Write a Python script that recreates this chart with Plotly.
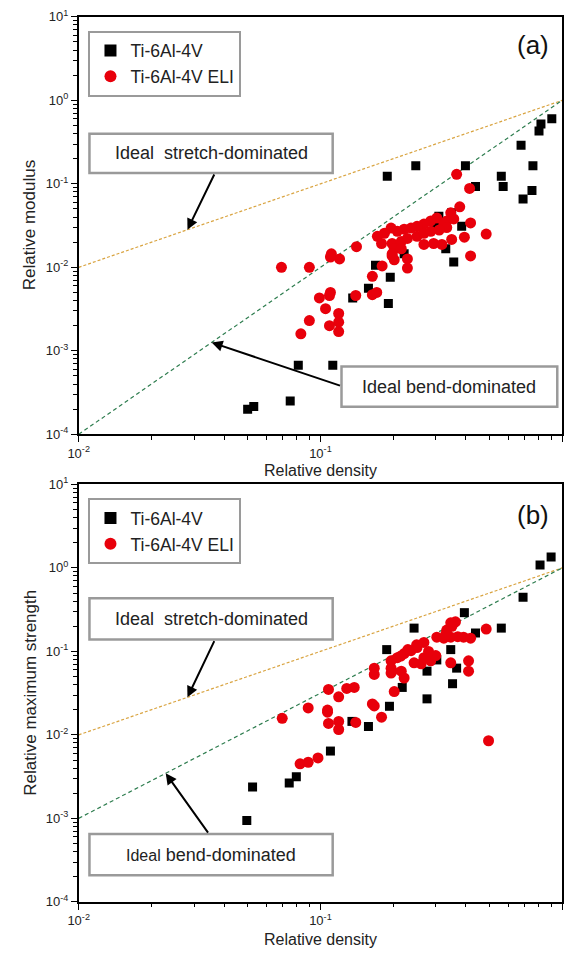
import plotly.graph_objects as go

W, H = 571, 957

# ---------------- data (a) relative modulus ----------------
a_ti_x = [0.906, 0.817, 0.802, 0.676, 0.757, 0.560, 0.570, 0.750, 0.689, 0.248,
          0.398, 0.189, 0.438, 0.309, 0.349, 0.384, 0.300, 0.330, 0.222, 0.356,
          0.1945, 0.169, 0.158, 0.136, 0.191, 0.081, 0.1125, 0.075, 0.050, 0.053]
a_ti_y = [0.60, 0.52, 0.43, 0.29, 0.165, 0.123, 0.093, 0.083, 0.066, 0.165,
          0.165, 0.123, 0.093, 0.041, 0.045, 0.031, 0.030, 0.0167, 0.0145, 0.0116,
          0.0076, 0.0106, 0.0056, 0.0043, 0.0037, 0.00067, 0.00067, 0.00025, 0.00020, 0.000215]

a_eli_x = [0.366, 0.414, 0.377, 0.418, 0.485, 0.394, 0.418, 0.346, 0.356, 0.333,
           0.303, 0.286, 0.268, 0.251, 0.237, 0.222, 0.208, 0.196, 0.184, 0.172,
           0.179, 0.198, 0.216, 0.229, 0.251, 0.268, 0.286, 0.294, 0.318, 0.268,
           0.349, 0.324, 0.202, 0.216, 0.141, 0.111, 0.120, 0.229, 0.198, 0.069,
           0.090, 0.110, 0.180, 0.164, 0.164, 0.171, 0.140, 0.110, 0.109, 0.099,
           0.105, 0.119, 0.090, 0.119, 0.109, 0.119, 0.083, 0.229, 0.202, 0.198,
           0.333, 0.310]
a_eli_y = [0.130, 0.088, 0.053, 0.034, 0.025, 0.023, 0.0137, 0.045, 0.038, 0.036,
           0.039, 0.036, 0.033, 0.031, 0.0295, 0.0286, 0.027, 0.0295, 0.0256, 0.0235,
           0.0193, 0.0193, 0.0204, 0.0222, 0.0235, 0.0256, 0.027, 0.0193, 0.0188, 0.0188,
           0.0216, 0.033, 0.0167, 0.0167, 0.0177, 0.0145, 0.0126, 0.0126, 0.0145, 0.0100,
           0.0100, 0.0133, 0.0104, 0.0078, 0.0047, 0.0050, 0.0046, 0.0050, 0.0046, 0.0043,
           0.0032, 0.0028, 0.0023, 0.0022, 0.0020, 0.0017, 0.0016, 0.0098, 0.0123, 0.0137,
           0.030, 0.028]

# ---------------- data (b) relative maximum strength ----------------
b_ti_x = [0.90, 0.81, 0.689, 0.394, 0.560, 0.438, 0.244, 0.188, 0.346, 0.303,
          0.366, 0.276, 0.352, 0.218, 0.276, 0.193, 0.135, 0.158, 0.110, 0.0795,
          0.0743, 0.0524, 0.0496]
b_ti_y = [1.35, 1.08, 0.445, 0.291, 0.190, 0.166, 0.190, 0.105, 0.105, 0.079,
          0.063, 0.058, 0.041, 0.037, 0.027, 0.022, 0.0145, 0.0126, 0.0064, 0.00316,
          0.00266, 0.00238, 0.00094]

b_eli_x = [0.485, 0.346, 0.362, 0.333, 0.303, 0.324, 0.346, 0.391, 0.418, 0.268,
           0.251, 0.237, 0.222, 0.208, 0.196, 0.268, 0.286, 0.244, 0.261, 0.198,
           0.216, 0.222, 0.167, 0.167, 0.196, 0.196, 0.300, 0.346, 0.410, 0.410,
           0.202, 0.1285, 0.138, 0.119, 0.108, 0.164, 0.167, 0.089, 0.107, 0.0695,
           0.107, 0.108, 0.119, 0.119, 0.140, 0.179, 0.0824, 0.089, 0.0977, 0.496,
           0.350, 0.370, 0.330, 0.250, 0.230, 0.280, 0.215]
b_eli_y = [0.185, 0.220, 0.226, 0.180, 0.148, 0.144, 0.148, 0.148, 0.144, 0.128,
           0.111, 0.102, 0.094, 0.084, 0.077, 0.084, 0.077, 0.073, 0.071, 0.058,
           0.058, 0.048, 0.063, 0.053, 0.063, 0.055, 0.089, 0.073, 0.077, 0.058,
           0.033, 0.036, 0.037, 0.0286, 0.035, 0.0235, 0.0222, 0.021, 0.0198, 0.0158,
           0.0187, 0.0137, 0.0145, 0.0116, 0.0141, 0.0163, 0.0045, 0.0047, 0.0053, 0.0085,
           0.200, 0.150, 0.160, 0.120, 0.105, 0.100, 0.088]

# ideal scaling guide lines (end points)
line_x = [0.01, 1.0]
stretch_y = [0.01, 1.0]
bend_a_y = [1e-4, 1.0]
bend_b_y = [1e-3, 1.0]

x_tickvals = [0.01, 0.1, 1]
x_ticktext = ["10<sup>-2</sup>", "10<sup>-1</sup>", "10<sup>0</sup>"]
y_tickvals = [1e-4, 1e-3, 1e-2, 1e-1, 1, 10]
y_ticktext = ["10<sup>-4</sup>", "10<sup>-3</sup>", "10<sup>-2</sup>",
              "10<sup>-1</sup>", "10<sup>0</sup>", "10<sup>1</sup>"]

series_names = ["Ti-6Al-4V", "Ti-6Al-4V ELI"]

# ---------------- styling ----------------
FONT = "Liberation Sans, Arial, sans-serif"
RED = "#E8000B"
ORANGE = "#D9A441"
GREEN = "#2E7D4F"
BOXC = "#9A9A9A"


def fx(px):
    return px / W


def fy(py):
    return 1 - py / H


X0, X1 = 69, 562
TOP = (8, 433)
BOT = (484, 909)


def lx_of(px):
    return -2 + 2 * (px - X0) / (X1 - X0)


def ly_of(py, frame):
    return 1 - 5 * (py - frame[0]) / (frame[1] - frame[0])


fig = go.Figure()

panels = [
    ("x", "y", a_ti_x, a_ti_y, a_eli_x, a_eli_y, bend_a_y, "legend"),
    ("x2", "y2", b_ti_x, b_ti_y, b_eli_x, b_eli_y, bend_b_y, "legend2"),
]
for xa, ya, tx, ty, ex, ey, bend, leg in panels:
    fig.add_trace(go.Scatter(x=line_x, y=stretch_y, mode="lines", xaxis=xa, yaxis=ya,
                             line=dict(color=ORANGE, width=1.2, dash="3px,2px"),
                             showlegend=False, hoverinfo="skip"))
    fig.add_trace(go.Scatter(x=line_x, y=bend, mode="lines", xaxis=xa, yaxis=ya,
                             line=dict(color=GREEN, width=1.2, dash="4px,3px"),
                             showlegend=False, hoverinfo="skip"))
    fig.add_trace(go.Scatter(x=tx, y=ty, mode="markers", name=series_names[0],
                             xaxis=xa, yaxis=ya, legend=leg,
                             marker=dict(symbol="square", size=9, color="black")))
    fig.add_trace(go.Scatter(x=ex, y=ey, mode="markers", name=series_names[1],
                             xaxis=xa, yaxis=ya, legend=leg,
                             marker=dict(symbol="circle", size=11, color=RED)))


def xaxis_cfg(dom_anchor):
    return dict(type="log", range=[-2, 0], domain=[fx(X0), fx(X1)], anchor=dom_anchor,
                tickvals=x_tickvals, ticktext=x_ticktext, ticks="outside", ticklen=6,
                tickwidth=1.3, tickcolor="black",
                minor=dict(tickvals=[m * d for d in (0.01, 0.1) for m in range(2, 10)],
                           ticks="outside", ticklen=3.5, tickwidth=1, tickcolor="black"),
                showline=True, linecolor="black", linewidth=1.6, mirror=True,
                showgrid=False, zeroline=False,
                tickfont=dict(family=FONT, size=13, color="#222"))


def yaxis_cfg(dom, anchor):
    return dict(type="log", range=[-4, 1], domain=dom, anchor=anchor,
                tickvals=y_tickvals, ticktext=y_ticktext, ticks="outside", ticklen=6,
                tickwidth=1.3, tickcolor="black",
                minor=dict(tickvals=[m * d for d in (1e-4, 1e-3, 1e-2, 1e-1, 1) for m in range(2, 10)],
                           ticks="outside", ticklen=3.5, tickwidth=1, tickcolor="black"),
                showline=True, linecolor="black", linewidth=1.6, mirror=True,
                showgrid=False, zeroline=False,
                tickfont=dict(family=FONT, size=13, color="#222"))


leg_style = dict(xanchor="left", yanchor="top", bordercolor=BOXC, borderwidth=2,
                 bgcolor="white", font=dict(family=FONT, size=17.5, color="#222"),
                 itemsizing="constant")

fig.update_layout(
    width=W, height=H, margin=dict(l=0, r=0, t=0, b=0),
    paper_bgcolor="white", plot_bgcolor="white",
    font=dict(family=FONT, color="#222"),
    xaxis=xaxis_cfg("y"),
    yaxis=yaxis_cfg([fy(TOP[1]), fy(TOP[0])], "x"),
    xaxis2=xaxis_cfg("y2"),
    yaxis2=yaxis_cfg([fy(BOT[1]), fy(BOT[0])], "x2"),
    legend=dict(x=fx(79), y=fy(TOP[0] + 14), **leg_style),
    legend2=dict(x=fx(79), y=fy(BOT[0] + 14), **leg_style),
    showlegend=True,
)

shapes = []
annots = []


def text_ann(px, py, txt, size, angle=0, color="#222"):
    return dict(xref="paper", yref="paper", x=fx(px), y=fy(py), text=txt,
                textangle=angle, showarrow=False, xanchor="center", yanchor="middle",
                font=dict(family=FONT, size=size, color=color))


# axis titles
annots.append(text_ann(19, (TOP[0] + TOP[1]) / 2, "Relative modulus", 17, -90))
annots.append(text_ann(19, (BOT[0] + BOT[1]) / 2, "Relative maximum strength", 17, -90))
annots.append(text_ann((X0 + X1) / 2, 470, "Relative density", 16))
annots.append(text_ann((X0 + X1) / 2, 947, "Relative density", 16))

# panel letters
annots.append(text_ann(532, 37, "(a)", 26, color="#111"))
annots.append(text_ann(532, 515, "(b)", 26, color="#111"))

# labelled boxes
boxes = [
    ((80, 127, 328, 167), "Ideal\u00a0\u00a0stretch-dominated"),
    ((337, 364, 557, 405), "Ideal bend-dominated"),
    ((80, 600, 328, 642), "Ideal\u00a0\u00a0stretch-dominated"),
    ((80, 840, 328, 882), "<span style='font-size:16px'>Ideal</span> bend-dominated"),
]
for (bx0, by0, bx1, by1), txt in boxes:
    shapes.append(dict(type="rect", xref="paper", yref="paper",
                       x0=fx(bx0), x1=fx(bx1), y0=fy(by1), y1=fy(by0),
                       line=dict(color=BOXC, width=2.5), fillcolor="white", layer="above"))
    annots.append(text_ann((bx0 + bx1) / 2, (by0 + by1) / 2, txt, 18))

# arrows: tip on guide line (data coords), tail at box edge (pixel -> data coords)
arrows = [
    ("x", "y", TOP, -1.55, 1.0, (208, 167)),
    ("x", "y", TOP, -1.45, 2.0, (337, 384)),
    ("x2", "y2", BOT, -1.55, 1.0, (208, 642)),
    ("x2", "y2", BOT, -1.64, 1.5, (202, 840)),
]
for xr, yr, frame, tipx, slope, (tpx, tpy) in arrows:
    annots.append(dict(xref=xr, yref=yr, x=tipx, y=tipx * slope,
                       axref=xr, ayref=yr, ax=lx_of(tpx), ay=ly_of(tpy, frame), text="",
                       showarrow=True, arrowhead=2, arrowsize=1.1, arrowwidth=2,
                       arrowcolor="black"))

fig.update_layout(shapes=shapes, annotations=annots)

fig.write_html("out.html")
